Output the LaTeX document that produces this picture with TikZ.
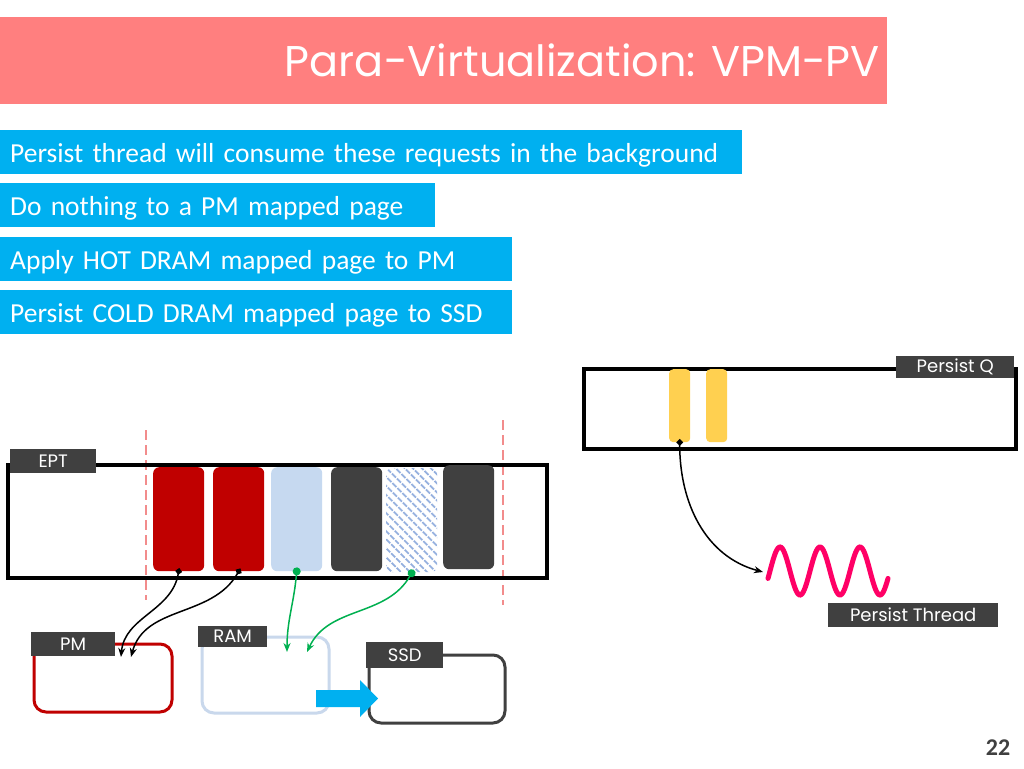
\documentclass[tikz,border=0pt]{standalone}
\usepackage{fontspec}
\setmainfont{Carlito}
\newfontfamily\gothic{Poppins}
\usetikzlibrary{calc,patterns.meta,arrows.meta}
\definecolor{banner}{HTML}{FF7F7F}
\definecolor{skyblue}{HTML}{00B0F0}
\definecolor{darkred}{HTML}{C00000}
\definecolor{paleblue}{HTML}{C6D9F0}
\definecolor{ramblue}{HTML}{C9D8EC}
\definecolor{hatchblue}{HTML}{92AEDE}
\definecolor{tagfill}{HTML}{404040}
\definecolor{gold}{HTML}{FFD050}
\definecolor{wavepink}{HTML}{FF0066}
\definecolor{dashred}{HTML}{F28C8C}
\definecolor{linkgreen}{HTML}{00B050}
\tikzset{
	infobar/.style={fill=skyblue, text=white, anchor=north west, inner xsep=10pt, inner ysep=0pt,
		minimum height=44pt, text width=#1, align=left, text height=22pt, text depth=2pt,
		font=\fontsize{27.5}{30}\selectfont},
	tag/.style={fill=tagfill, text=white, anchor=north west, inner sep=0pt,
		font=\gothic\fontsize{18}{18}\selectfont},
	rail/.style={draw=black, line width=4pt, anchor=north west, inner sep=0pt},
	membox/.style={line width=3pt, rounded corners=12pt, anchor=north west, inner sep=0pt},
	page/.style={rounded corners=6pt, anchor=north west, inner sep=0pt, minimum width=51pt, minimum height=104pt},
	slot/.style={fill=gold, rounded corners=4pt, anchor=north west, inner sep=0pt, minimum width=21pt, minimum height=73pt},
	blacklink/.style={line width=1.5pt, shorten <=-3.5pt, {Diamond[length=7pt,width=7pt]}-{Stealth[length=9pt,width=7pt]}},
	greenlink/.style={linkgreen, line width=1.5pt, shorten <=-4pt, {Circle[length=8pt]}-{Stealth[length=9pt,width=7pt]}},
	bound/.style={dashred, line width=2.5pt, dash pattern=on 10pt off 5pt}
}

\begin{document}
\begin{tikzpicture}[x=1pt, y=-1pt]
	%%%%% START %%%%%
	\useasboundingbox[fill=white] (0,0) rectangle (1024,768);
	
	\fill[banner] (0,17) rectangle (887,104);
	\node[anchor=base east, text=white, inner sep=0pt, font=\gothic\fontsize{43}{43}\selectfont] (title) at (880,76) {Para-Virtualization: VPM-PV};
	
	\node[infobar=722pt] (info1) at (0,130) {Persist thread will consume these requests in the background};
	\node[infobar=415pt] (info2) at (0,183) {Do nothing to a PM mapped page};
	\node[infobar=492pt] (info3) at (0,237) {Apply HOT DRAM mapped page to PM};
	\node[infobar=492pt] (info4) at (0,290) {Persist COLD DRAM mapped page to SSD};
	
	% persist queue
	\node[rail, minimum width=432pt, minimum height=80pt] (queue) at (582,367) {};
	\node[slot] (req1) at (669,369) {};
	\node[slot] (req2) at (706,369) {};
	\node[tag, minimum width=118pt, minimum height=22pt] (qtag) at (896,356) {Persist Q};
	
	\draw[wavepink, line width=5pt, line cap=round, smooth, samples=120, domain=0:120] plot ({768+\x}, {571 - 24*sin(9*(\x-2))});
	\coordinate (thread) at (763,572);
	\node[tag, minimum width=170pt, minimum height=24pt] (ttag) at (828,603) {Persist Thread};
	\draw[blacklink] (req1.south) to[out=-90, in=165] (thread);
	
	% ept
	\draw[bound] (146,430) -- (146,600);
	\draw[bound] (503,420) -- (503,605);
	\node[rail, minimum width=539pt, minimum height=113pt] (ept) at (6,463) {};
	\node[tag, minimum width=86pt, minimum height=24pt] (etag) at (10,449) {EPT};
	
	\node[page, fill=darkred] (pg1) at (153,467) {};
	\node[page, fill=darkred] (pg2) at (213,467) {};
	\node[page, fill=paleblue] (pg3) at (271,467) {};
	\node[page, fill=tagfill] (pg4) at (331,467) {};
	\node[page, pattern={Lines[angle=-45, distance=6.5pt, line width=2.2pt]}, pattern color=hatchblue] (pg5) at (385,467) {};
	\node[page, fill=tagfill] (pg6) at (443,465) {};
	
	% memories
	\node[membox, draw=darkred, minimum width=138pt, minimum height=68pt] (pm) at (32.5,642.5) {};
	\node[membox, draw=ramblue, minimum width=127pt, minimum height=76pt] (ram) at (200.5,635.5) {};
	\node[membox, draw=tagfill, minimum width=136pt, minimum height=68pt] (ssd) at (367.5,653.5) {};
	\node[tag, minimum width=84pt, minimum height=24pt] (pmtag) at (31,632) {PM};
	\node[tag, minimum width=69pt, minimum height=21pt] (ramtag) at (198,626) {RAM};
	\node[tag, minimum width=77pt, minimum height=26pt] (ssdtag) at (366,642) {SSD};
	
	\fill[skyblue] (316,690) -- (360,690) -- (360,680) -- (378,698.5) -- (360,717) -- (360,707) -- (316,707) -- cycle;
	
	\coordinate (pmA) at (121,657);
	\coordinate (pmB) at (131,657);
	\coordinate (ramA) at (287,652);
	\coordinate (ramB) at (307,652);
	\draw[blacklink] (pg1.south) to[out=-100, in=85] (pmA);
	\draw[blacklink] (pg2.south) to[out=-120, in=75] (pmB);
	\draw[greenlink] (pg3.south) to[out=-95, in=90] (ramA);
	\draw[greenlink] (pg5.south) to[out=-120, in=65] (ramB);
	
	\node[text=tagfill, font=\bfseries\fontsize{24}{24}\selectfont] (pageno) at (998,748) {22};
	
	%%%%% END %%%%%
\end{tikzpicture}
\end{document}
